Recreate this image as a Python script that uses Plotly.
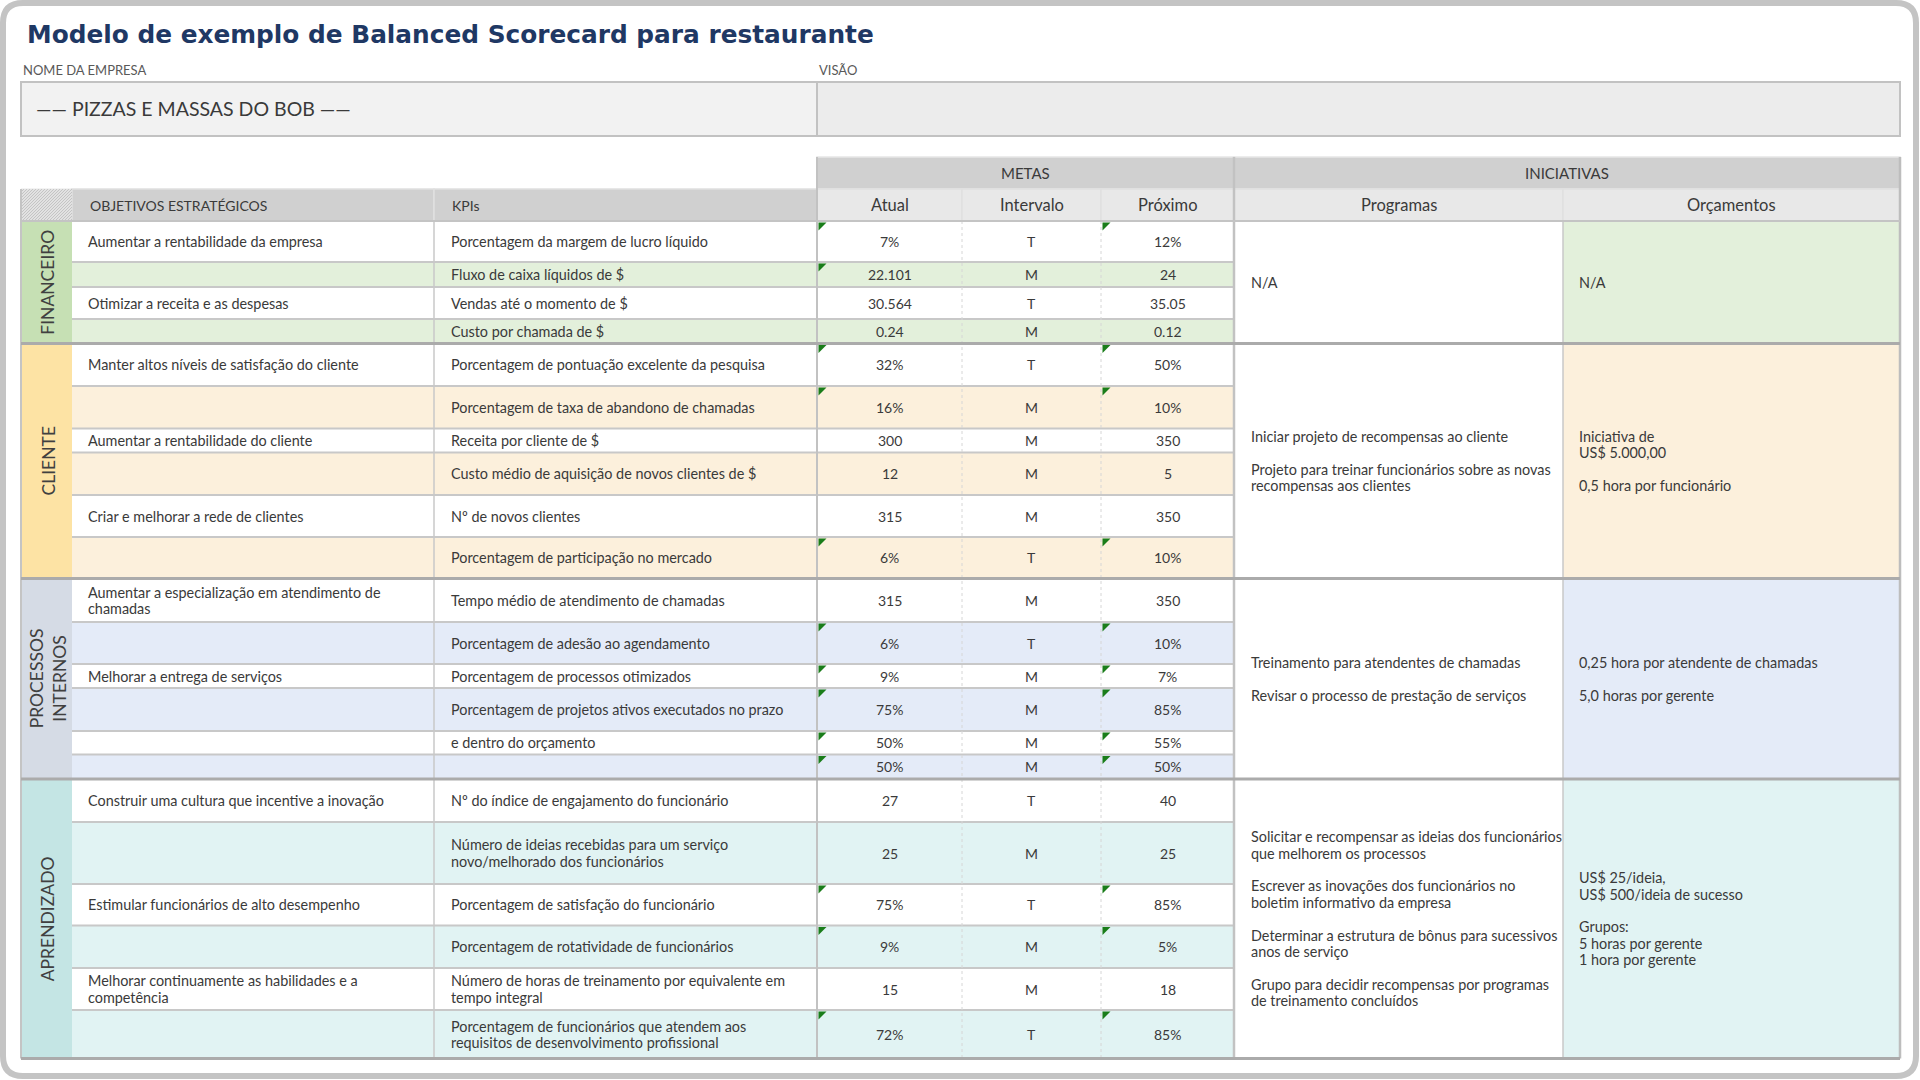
import plotly.graph_objects as go

# ---------------- data ----------------
title_text = "Modelo de exemplo de Balanced Scorecard para restaurante"
company_label = "NOME DA EMPRESA"
vision_label = "VISÃO"
company_name = "—— PIZZAS E MASSAS DO BOB ——"
group_headers = ["METAS", "INICIATIVAS"]
column_headers = ["OBJETIVOS ESTRATÉGICOS", "KPIs", "Atual", "Intervalo", "Próximo", "Programas", "Orçamentos"]
perspectives = ["FINANCEIRO", "CLIENTE", "PROCESSOS<br>INTERNOS", "APRENDIZADO"]
rows_per_perspective = [4, 6, 6, 6]

objectives = [
    "Aumentar a rentabilidade da empresa", "", "Otimizar a receita e as despesas", "",
    "Manter altos níveis de satisfação do cliente", "", "Aumentar a rentabilidade do cliente", "",
    "Criar e melhorar a rede de clientes", "",
    "Aumentar a especialização em atendimento de<br>chamadas", "", "Melhorar a entrega de serviços", "", "", "",
    "Construir uma cultura que incentive a inovação", "", "Estimular funcionários de alto desempenho", "",
    "Melhorar continuamente as habilidades e a<br>competência", "",
]
kpis = [
    "Porcentagem da margem de lucro líquido", "Fluxo de caixa líquidos de $", "Vendas até o momento de $",
    "Custo por chamada de $",
    "Porcentagem de pontuação excelente da pesquisa", "Porcentagem de taxa de abandono de chamadas",
    "Receita por cliente de $", "Custo médio de aquisição de novos clientes de $", "Nº de novos clientes",
    "Porcentagem de participação no mercado",
    "Tempo médio de atendimento de chamadas", "Porcentagem de adesão ao agendamento",
    "Porcentagem de processos otimizados", "Porcentagem de projetos ativos executados no prazo",
    "e dentro do orçamento", "",
    "Nº do índice de engajamento do funcionário",
    "Número de ideias recebidas para um serviço<br>novo/melhorado dos funcionários",
    "Porcentagem de satisfação do funcionário", "Porcentagem de rotatividade de funcionários",
    "Número de horas de treinamento por equivalente em<br>tempo integral",
    "Porcentagem de funcionários que atendem aos<br>requisitos de desenvolvimento profissional",
]
atual = ["7%", "22.101", "30.564", "0.24", "32%", "16%", "300", "12", "315", "6%",
         "315", "6%", "9%", "75%", "50%", "50%", "27", "25", "75%", "9%", "15", "72%"]
intervalo = ["T", "M", "T", "M", "T", "M", "M", "M", "M", "T",
             "M", "T", "M", "M", "M", "M", "T", "M", "T", "M", "M", "T"]
proximo = ["12%", "24", "35.05", "0.12", "50%", "10%", "350", "5", "350", "10%",
           "350", "10%", "7%", "85%", "55%", "50%", "40", "25", "85%", "5%", "18", "85%"]
flag_atual = [1, 1, 0, 0, 1, 1, 0, 0, 0, 1, 0, 1, 1, 1, 1, 1, 0, 0, 1, 1, 0, 1]
flag_proximo = [1, 0, 0, 0, 1, 1, 0, 0, 0, 1, 0, 1, 1, 1, 1, 1, 0, 0, 1, 1, 0, 1]
programas = [
    "N/A",
    "Iniciar projeto de recompensas ao cliente<br><br>Projeto para treinar funcionários sobre as novas<br>recompensas aos clientes",
    "Treinamento para atendentes de chamadas<br><br>Revisar o processo de prestação de serviços",
    "Solicitar e recompensar as ideias dos funcionários<br>que melhorem os processos<br><br>"
    "Escrever as inovações dos funcionários no<br>boletim informativo da empresa<br><br>"
    "Determinar a estrutura de bônus para sucessivos<br>anos de serviço<br><br>"
    "Grupo para decidir recompensas por programas<br>de treinamento concluídos",
]
orcamentos = [
    "N/A",
    "Iniciativa de<br>US$ 5.000,00<br><br>0,5 hora por funcionário",
    "0,25 hora por atendente de chamadas<br><br>5,0 horas por gerente",
    "US$ 25/ideia,<br>US$ 500/ideia de sucesso<br><br>Grupos:<br>5 horas por gerente<br>1 hora por gerente",
]

# ---------------- layout / style ----------------
W, H = 1920, 1080
FONT = "Lato, 'Open Sans', sans-serif"
TITLE_FONT = "'DejaVu Sans', sans-serif"
col_edges = [21, 72, 434, 817, 962, 1101, 1234, 1563, 1900]
row_edges = [221, 262, 287, 319, 343.5, 386, 428.5, 452.5, 495, 537, 578.5, 622, 664, 688,
             731, 754.5, 779, 822, 884, 925.5, 968, 1010, 1058.5]
header1 = (157, 189)
header2 = (189, 221)
LINE_GAP = 16.4
BODY = 14.4
label_colors = ["#c6e0b4", "#fde3a4", "#d5dbe5", "#c4e5e4"]
band_colors = ["#e3f0db", "#fcf0dc", "#e4ebf8", "#e1f3f3"]
dark_hdr = "#d0d0d0"
light_hdr = "#e8e8e8"
grid = "#c8c8c8"
sep = "#ababab"
txt = "#3a3a3a"

shapes = []
annotations = []


def rect(x0, y0, x1, y1, fill, lc=None, lw=0):
    shapes.append(dict(type="rect", xref="x", yref="y", x0=x0, y0=y0, x1=x1, y1=y1,
                       fillcolor=fill, line=dict(color=lc or fill, width=lw), layer="below"))


def seg(x0, y0, x1, y1, color, w, dash="solid"):
    shapes.append(dict(type="line", xref="x", yref="y", x0=x0, x1=x1, y0=y0, y1=y1,
                       line=dict(color=color, width=w, dash=dash), layer="above"))


def text(x, y, s, size=BODY, color=txt, anchor="left", family=FONT, angle=0):
    annotations.append(dict(x=x, y=y, xref="x", yref="y", text=s, showarrow=False,
                            xanchor=anchor, yanchor="middle", align=anchor,
                            font=dict(size=size, color=color, family=family), textangle=angle))


def block(x, yc, s, size=BODY, anchor="left"):
    lines = s.split("<br>")
    n = len(lines)
    for k, ln in enumerate(lines):
        if ln:
            text(x, yc + (k - (n - 1) / 2) * LINE_GAP, ln, size=size, anchor=anchor)


# outer rounded frame
r = 20
x0f, y0f, x1f, y1f = 3, 3, W - 4, H - 4
frame = (f"M {x0f + r},{y0f} L {x1f - r},{y0f} Q {x1f},{y0f} {x1f},{y0f + r} "
         f"L {x1f},{y1f - r} Q {x1f},{y1f} {x1f - r},{y1f} L {x0f + r},{y1f} "
         f"Q {x0f},{y1f} {x0f},{y1f - r} L {x0f},{y0f + r} Q {x0f},{y0f} {x0f + r},{y0f} Z")
shapes.append(dict(type="path", xref="x", yref="y", path=frame, fillcolor="white",
                   line=dict(color="#c4c4c4", width=6), layer="below"))

# title & company block
text(25, 34, "<b>" + title_text + "</b>", size=24.8, color="#1f3864", family=TITLE_FONT)
text(21, 70, company_label, size=13, color="#595959")
text(col_edges[3], 70, vision_label, size=13, color="#595959")
rect(col_edges[0], 82, col_edges[3], 136, "#f2f2f2", "#c2c2c2", 2)
rect(col_edges[3], 82, col_edges[-1], 136, "#ececec", "#c2c2c2", 2)
text(34, 108, company_name, size=19.5, color="#3a3a3a")

# header rows
rect(col_edges[3], header1[0], col_edges[6], header1[1], dark_hdr, "#e6e6e6", 1.5)
rect(col_edges[6], header1[0], col_edges[8], header1[1], dark_hdr, "#e6e6e6", 1.5)
text((col_edges[3] + col_edges[6]) / 2, sum(header1) / 2, group_headers[0], size=15, anchor="center")
text((col_edges[6] + col_edges[8]) / 2, sum(header1) / 2, group_headers[1], size=15, anchor="center")

# hatched corner cell
hx0, hx1, hy0, hy1 = col_edges[0], col_edges[1], header2[0], header2[1]
rect(hx0, hy0, hx1, hy1, "#e2e2e2", "#e6e6e6", 1)
hh = hy1 - hy0
c = -hh
while c < hx1 - hx0:
    tmin, tmax = max(0, -c), min(hh, (hx1 - hx0) - c)
    if tmin < tmax:
        seg(hx0 + c + tmin, hy1 - tmin, hx0 + c + tmax, hy1 - tmax, "#bdbdbd", 0.8)
    c += 3

for j in range(7):
    xa, xb = col_edges[j + 1], col_edges[j + 2]
    fill = dark_hdr if j < 2 else light_hdr
    rect(xa, header2[0], xb, header2[1], fill, "#e0e0e0", 1.5)
    if j < 2:
        text(xa + 16, sum(header2) / 2, column_headers[j], size=14)
    else:
        text((xa + xb) / 2, sum(header2) / 2, column_headers[j], size=16.5, anchor="center")

# body
start = 0
for p, n in enumerate(rows_per_perspective):
    top, bot = row_edges[start], row_edges[start + n]
    rect(col_edges[0], top, col_edges[1], bot, label_colors[p])
    rect(col_edges[6], top, col_edges[7], bot, "white")
    rect(col_edges[7], top, col_edges[8], bot, band_colors[p])
    for i in range(start, start + n):
        fill = "white" if (i - start) % 2 == 0 else band_colors[p]
        rect(col_edges[1], row_edges[i], col_edges[6], row_edges[i + 1], fill)
        if i > start:
            seg(col_edges[1], row_edges[i], col_edges[6], row_edges[i], grid, 2)
    text((col_edges[0] + col_edges[1]) / 2 + 1, (top + bot) / 2, perspectives[p], size=17.5,
         color="#404040", anchor="center", angle=-90)
    block(col_edges[6] + 15, (top + bot) / 2, programas[p])
    block(col_edges[7] + 14, (top + bot) / 2, orcamentos[p])
    start += n

for i in range(len(kpis)):
    yc = (row_edges[i] + row_edges[i + 1]) / 2
    if objectives[i]:
        block(col_edges[1] + 14, yc, objectives[i])
    if kpis[i]:
        block(col_edges[2] + 15, yc, kpis[i])
    text((col_edges[3] + col_edges[4]) / 2, yc, atual[i], size=14, anchor="center")
    text((col_edges[4] + col_edges[5]) / 2, yc, intervalo[i], size=14, anchor="center")
    text((col_edges[5] + col_edges[6]) / 2, yc, proximo[i], size=14, anchor="center")
    for flag, cx in ((flag_atual[i], col_edges[3]), (flag_proximo[i], col_edges[5])):
        if flag:
            x, y = cx + 1.5, row_edges[i] + 1.5
            shapes.append(dict(type="path", xref="x", yref="y",
                               path=f"M {x},{y} L {x + 8},{y} L {x},{y + 8} Z",
                               fillcolor="#1a7d1a", line=dict(width=0), layer="above"))

# grid lines
tb, bb = header2[1], row_edges[-1]
seg(col_edges[2], tb, col_edges[2], bb, grid, 1.5)
seg(col_edges[3], header1[0], col_edges[3], bb, "#c2c2c2", 2)
seg(col_edges[4], tb, col_edges[4], bb, "#d6d6d6", 1, "dot")
seg(col_edges[5], tb, col_edges[5], bb, "#d6d6d6", 1, "dot")
seg(col_edges[6], header1[0], col_edges[6], bb, "#c2c2c2", 2.5)
seg(col_edges[7], tb, col_edges[7], bb, grid, 1.5)
seg(col_edges[8], header1[0], col_edges[8], bb, "#bdbdbd", 2.5)
seg(col_edges[0], header2[0], col_edges[0], bb, "#c4c4c4", 2)
seg(col_edges[0], tb, col_edges[8], tb, "#c4c4c4", 2)
s = 0
for n in rows_per_perspective:
    s += n
    seg(col_edges[0], row_edges[s], col_edges[8], row_edges[s], sep, 3)

fig = go.Figure(go.Scatter(x=[], y=[]))
fig.update_layout(
    width=W, height=H, margin=dict(l=0, r=0, t=0, b=0),
    paper_bgcolor="white", plot_bgcolor="white", showlegend=False,
    xaxis=dict(range=[0, W], visible=False, fixedrange=True),
    yaxis=dict(range=[H, 0], visible=False, fixedrange=True),
    shapes=shapes, annotations=annotations,
)
fig.write_html("out.html", config={"displayModeBar": False},
               post_script="document.body.style.margin='0';document.body.style.overflow='hidden';")
